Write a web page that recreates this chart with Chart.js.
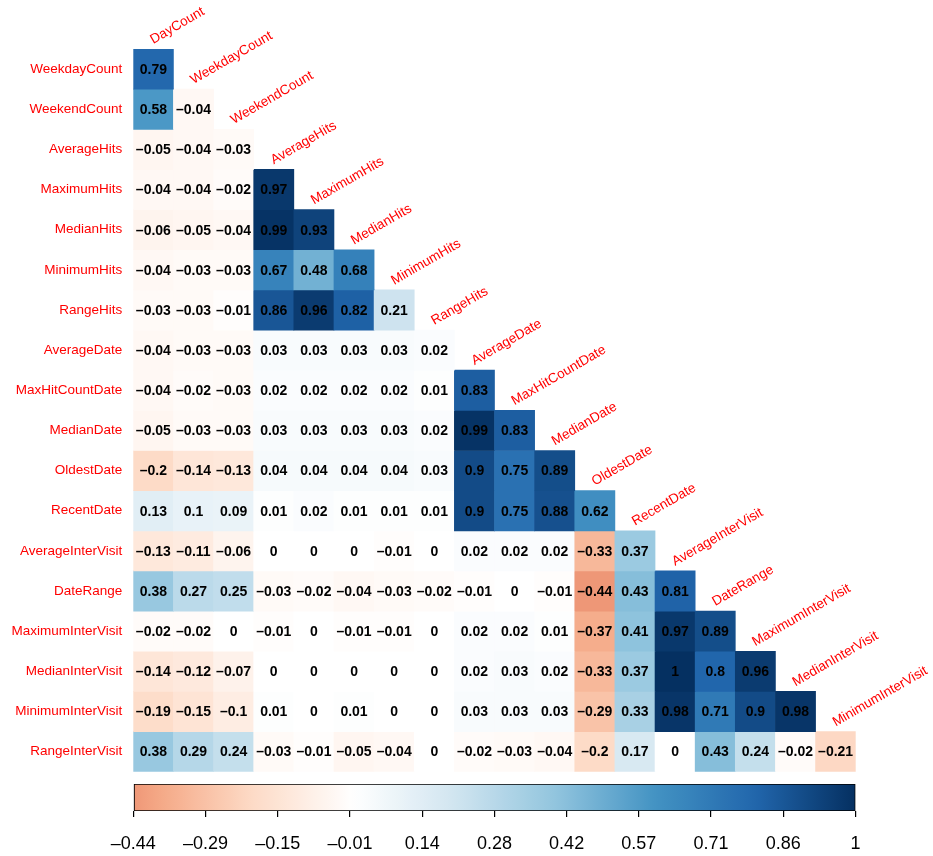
<!DOCTYPE html>
<html>
<head>
<meta charset="utf-8">
<script src="https://cdn.jsdelivr.net/npm/chart.js@4.4.1/dist/chart.umd.min.js"></script>
<style>
  html, body { margin: 0; padding: 0; background: #fff; }
  #wrap { position: relative; width: 933px; height: 856px; }
  #corrChart { position: absolute; left: 0; top: 0; }
  #barChart { position: absolute; left: 0; top: 776px; }
</style>
</head>
<body>
<div id="wrap">
  <canvas id="corrChart" width="933" height="776"></canvas>
  <canvas id="barChart" width="933" height="80"></canvas>
</div>
<script>
// column and row variables (lower triangle, no diagonal)
const colNames = ['DayCount', 'WeekdayCount', 'WeekendCount', 'AverageHits', 'MaximumHits', 'MedianHits',
    'MinimumHits', 'RangeHits', 'AverageDate', 'MaxHitCountDate', 'MedianDate', 'OldestDate', 'RecentDate',
    'AverageInterVisit', 'DateRange', 'MaximumInterVisit', 'MedianInterVisit', 'MinimumInterVisit'];
const rowNames = ['WeekdayCount', 'WeekendCount', 'AverageHits', 'MaximumHits', 'MedianHits', 'MinimumHits',
    'RangeHits', 'AverageDate', 'MaxHitCountDate', 'MedianDate', 'OldestDate', 'RecentDate',
    'AverageInterVisit', 'DateRange', 'MaximumInterVisit', 'MedianInterVisit', 'MinimumInterVisit', 'RangeInterVisit'];

const corrWeekdayCount = [0.79];
const corrWeekendCount = [0.58, -0.04];
const corrAverageHits = [-0.05, -0.04, -0.03];
const corrMaximumHits = [-0.04, -0.04, -0.02, 0.97];
const corrMedianHits = [-0.06, -0.05, -0.04, 0.99, 0.93];
const corrMinimumHits = [-0.04, -0.03, -0.03, 0.67, 0.48, 0.68];
const corrRangeHits = [-0.03, -0.03, -0.01, 0.86, 0.96, 0.82, 0.21];
const corrAverageDate = [-0.04, -0.03, -0.03, 0.03, 0.03, 0.03, 0.03, 0.02];
const corrMaxHitCountDate = [-0.04, -0.02, -0.03, 0.02, 0.02, 0.02, 0.02, 0.01, 0.83];
const corrMedianDate = [-0.05, -0.03, -0.03, 0.03, 0.03, 0.03, 0.03, 0.02, 0.99, 0.83];
const corrOldestDate = [-0.2, -0.14, -0.13, 0.04, 0.04, 0.04, 0.04, 0.03, 0.9, 0.75, 0.89];
const corrRecentDate = [0.13, 0.1, 0.09, 0.01, 0.02, 0.01, 0.01, 0.01, 0.9, 0.75, 0.88, 0.62];
const corrAverageInterVisit = [-0.13, -0.11, -0.06, 0, 0, 0, -0.01, 0, 0.02, 0.02, 0.02, -0.33, 0.37];
const corrDateRange = [0.38, 0.27, 0.25, -0.03, -0.02, -0.04, -0.03, -0.02, -0.01, 0, -0.01, -0.44, 0.43, 0.81];
const corrMaximumInterVisit = [-0.02, -0.02, 0, -0.01, 0, -0.01, -0.01, 0, 0.02, 0.02, 0.01, -0.37, 0.41, 0.97, 0.89];
const corrMedianInterVisit = [-0.14, -0.12, -0.07, 0, 0, 0, 0, 0, 0.02, 0.03, 0.02, -0.33, 0.37, 1, 0.8, 0.96];
const corrMinimumInterVisit = [-0.19, -0.15, -0.1, 0.01, 0, 0.01, 0, 0, 0.03, 0.03, 0.03, -0.29, 0.33, 0.98, 0.71, 0.9, 0.98];
const corrRangeInterVisit = [0.38, 0.29, 0.24, -0.03, -0.01, -0.05, -0.04, 0, -0.02, -0.03, -0.04, -0.2, 0.17, 0, 0.43, 0.24, -0.02, -0.21];

const corrRows = [corrWeekdayCount, corrWeekendCount, corrAverageHits, corrMaximumHits, corrMedianHits,
    corrMinimumHits, corrRangeHits, corrAverageDate, corrMaxHitCountDate, corrMedianDate, corrOldestDate,
    corrRecentDate, corrAverageInterVisit, corrDateRange, corrMaximumInterVisit, corrMedianInterVisit,
    corrMinimumInterVisit, corrRangeInterVisit];

// colour legend tick labels
const legendTicks = ['\u20130.44', '\u20130.29', '\u20130.15', '\u20130.01', '0.14', '0.28', '0.42', '0.57', '0.71', '0.86', '1'];
const legendMin = -0.44;
const legendMax = 1;

// RdBu ramp on [-1, 1]
const ramp = ['#67001F', '#B2182B', '#D6604D', '#F4A582', '#FDDBC7', '#FFFFFF',
    '#D1E5F0', '#92C5DE', '#4393C3', '#2166AC', '#053061'];

function hexToRgb(h) {
    return [parseInt(h.slice(1, 3), 16), parseInt(h.slice(3, 5), 16), parseInt(h.slice(5, 7), 16)];
}

function colorFor(v) {
    if (v === undefined || v === null) return 'rgba(0,0,0,0)';
    const t = Math.min(Math.max((v + 1) / 2, 0), 1) * (ramp.length - 1);
    const i = Math.min(Math.floor(t), ramp.length - 2);
    const f = t - i;
    const a = hexToRgb(ramp[i]);
    const b = hexToRgb(ramp[i + 1]);
    const c = a.map((x, k) => Math.round(x + (b[k] - x) * f));
    return `rgb(${c[0]},${c[1]},${c[2]})`;
}

function fmt(v) {
    return (v < 0 ? '\u2013' : '') + String(Math.abs(v));
}

const FONT = '"Liberation Sans", Arial, Helvetica, sans-serif';
Chart.defaults.font.family = FONT;

// draws the numbers in the cells and the rotated column names
const cellText = {
    id: 'cellText',
    afterDatasetsDraw(chart) {
        const ctx = chart.ctx;
        ctx.save();
        ctx.font = 'bold 14px ' + FONT;
        ctx.fillStyle = '#000';
        ctx.textAlign = 'center';
        ctx.textBaseline = 'middle';
        corrRows.forEach((row, r) => {
            const meta = chart.getDatasetMeta(r);
            row.forEach((v, c) => {
                const el = meta.data[c];
                if (!el) return;
                ctx.fillText(fmt(v), el.x, (el.y + el.base) / 2 + 1);
            });
        });

        ctx.font = '13.5px ' + FONT;
        ctx.fillStyle = '#FF0000';
        ctx.textAlign = 'left';
        ctx.textBaseline = 'alphabetic';
        colNames.forEach((name, c) => {
            const el = chart.getDatasetMeta(c).data[c];
            const top = Math.min(el.y, el.base);
            ctx.save();
            ctx.translate(el.x, top - 5);
            ctx.rotate(-Math.PI / 6);
            ctx.fillText(name, 0, 0);
            ctx.restore();
        });
        ctx.restore();
    }
};

const datasets = rowNames.map((name, r) => ({
    label: name,
    data: colNames.map((_, c) => (c <= r ? [r - 0.5, r + 0.5] : null)),
    backgroundColor: ctx => colorFor(corrRows[r][ctx.dataIndex]),
    borderWidth: 0,
    grouped: false,
    barPercentage: 1,
    categoryPercentage: 1
}));

new Chart(document.getElementById('corrChart'), {
    type: 'bar',
    data: { labels: colNames, datasets: datasets },
    options: {
        responsive: false,
        animation: false,
        layout: { padding: { top: 49, right: 77.3, bottom: 4.3, left: 0 } },
        plugins: { legend: { display: false }, tooltip: { enabled: false } },
        scales: {
            x: { type: 'category', display: false },
            y: {
                type: 'linear',
                reverse: true,
                min: -0.5,
                max: 17.5,
                afterBuildTicks: s => { s.ticks = rowNames.map((_, i) => ({ value: i })); },
                afterFit: s => { s.width = 133.3; s.paddingTop = 0; s.paddingBottom = 0; },
                grid: { display: false, drawTicks: false },
                border: { display: false },
                ticks: {
                    color: '#FF0000',
                    padding: 11,
                    font: { size: 13.5 },
                    callback: v => rowNames[v]
                }
            }
        }
    },
    plugins: [cellText]
});

// colour legend
new Chart(document.getElementById('barChart'), {
    type: 'bar',
    data: {
        labels: [''],
        datasets: [{
            data: [[0, legendTicks.length - 1]],
            backgroundColor: ctx => {
                const area = ctx.chart.chartArea;
                if (!area) return 'rgba(0,0,0,0)';
                const g = ctx.chart.ctx.createLinearGradient(area.left, 0, area.right, 0);
                const n = 60;
                for (let k = 0; k <= n; k++) {
                    g.addColorStop(k / n, colorFor(legendMin + (legendMax - legendMin) * k / n));
                }
                return g;
            },
            borderColor: '#000',
            borderWidth: 1.2,
            borderSkipped: false,
            barPercentage: 1,
            categoryPercentage: 1
        }]
    },
    options: {
        indexAxis: 'y',
        responsive: false,
        animation: false,
        layout: { padding: { top: 8, right: 77.5, bottom: 0, left: 133.3 } },
        plugins: { legend: { display: false }, tooltip: { enabled: false } },
        scales: {
            y: { display: false },
            x: {
                type: 'linear',
                min: 0,
                max: legendTicks.length - 1,
                afterBuildTicks: s => { s.ticks = legendTicks.map((_, i) => ({ value: i })); },
                afterFit: s => { s.height = 45; },
                border: { display: false },
                grid: { drawOnChartArea: false, drawTicks: true, tickLength: 6, tickColor: '#000', lineWidth: 1.2 },
                ticks: {
                    color: '#000',
                    padding: 16,
                    maxRotation: 0,
                    autoSkip: false,
                    font: { size: 18 },
                    callback: (v, i) => legendTicks[i]
                }
            }
        }
    }
});
</script>
</body>
</html>
